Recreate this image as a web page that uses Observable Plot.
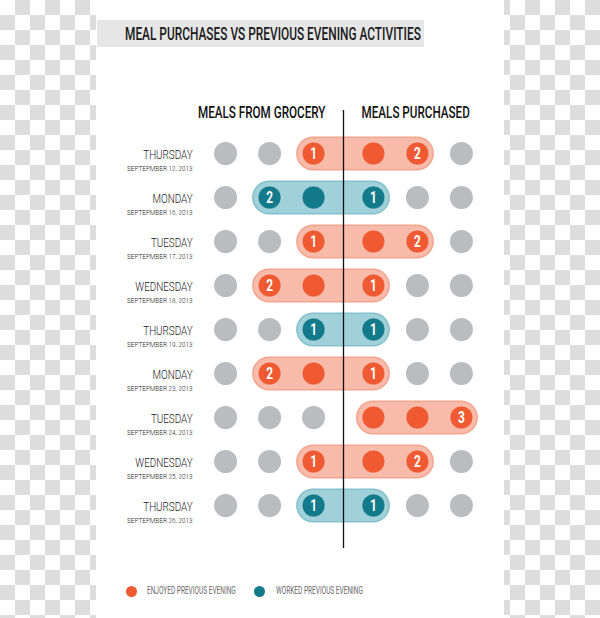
<!DOCTYPE html>
<html><head><meta charset="utf-8">
<script src="https://cdn.jsdelivr.net/npm/d3@7"></script>
<script src="https://cdn.jsdelivr.net/npm/@observablehq/plot@0.6"></script>
<style>
html,body{margin:0;padding:0;}
body{width:600px;height:618px;overflow:hidden;position:relative;
 background:repeating-conic-gradient(#dddddd 0% 25%, #ffffff 0% 50%) 0 0/30px 30px;
 font-family:Roboto,"DejaVu Sans",sans-serif;}
#card{position:absolute;left:96px;top:0;width:408px;height:618px;background:#fff;}
#title{position:absolute;left:1px;top:20px;width:327px;height:27px;background:#e6e6e6;margin:0;}
#title span{position:absolute;left:28px;top:3px;font-size:18px;line-height:22px;font-weight:500;color:#1a1a1a;white-space:nowrap;transform:scaleX(0.66);transform-origin:0 50%;}
#chart{position:absolute;left:0;top:60px;}
#legend{position:absolute;left:0;top:583px;width:408px;height:16px;}
.lg-dot{position:absolute;top:2.5px;width:11px;height:11px;border-radius:50%;}
.lg-txt{position:absolute;top:1px;font-size:10.5px;line-height:14px;color:#6a6a6a;white-space:nowrap;transform:scaleX(0.62);transform-origin:0 50%;}
</style></head>
<body>
<div id="card">
  <h1 id="title"><span></span></h1>
  <div id="chart"></div>
  <div id="legend"></div>
</div>
<script>
// ---- data ----
const titleText = "MEAL PURCHASES VS PREVIOUS EVENING ACTIVITIES";
const sideLabels = ["MEALS FROM GROCERY", "MEALS PURCHASED"];
const days = ["THURSDAY","MONDAY","TUESDAY","WEDNESDAY","THURSDAY","MONDAY","TUESDAY","WEDNESDAY","THURSDAY"];
const dates = ["SEPTEPMBER 12, 2013","SEPTEPMBER 16, 2013","SEPTEPMBER 17, 2013","SEPTEPMBER 18, 2013",
  "SEPTEPMBER 19, 2013","SEPTEPMBER 23, 2013","SEPTEPMBER 24, 2013","SEPTEPMBER 25, 2013","SEPTEPMBER 26, 2013"];
const groceryMeals   = [1,2,1,2,1,2,0,1,1];
const purchasedMeals = [2,1,2,1,1,1,3,2,1];
const activity = ["Enjoyed","Worked","Enjoyed","Enjoyed","Worked","Enjoyed","Enjoyed","Enjoyed","Worked"];
const activityNames  = ["Enjoyed","Worked"];
const activityLabels = ["ENJOYED PREVIOUS EVENING","WORKED PREVIOUS EVENING"];
const slotsPerSide = 3;

// ---- styles ----
const dotColor    = {Enjoyed:"#ef5a33", Worked:"#137a8c"};
const pillColor   = {Enjoyed:"#f8bbaa", Worked:"#a0d0d9"};
const borderColor = {Enjoyed:"#f4a48e", Worked:"#84c1cc"};
const emptyColor = "#bbbcbf";
const GAP = 0.68;           // distance of first slot from the divider, in slot units
const LABEL_X = -3.43;

document.querySelector("#title span").textContent = titleText;

const slotX = (side, k) => side * (GAP + k - 1);
const rows = dates.map((d, i) => ({date: d, day: days[i], grocery: groceryMeals[i], purchased: purchasedMeals[i], activity: activity[i]}));
const dots = rows.flatMap(r => [-1, 1].flatMap(side => d3.range(1, slotsPerSide + 1).map(k => ({
  date: r.date, x: slotX(side, k), filled: k <= (side < 0 ? r.grocery : r.purchased), activity: r.activity
}))));
const counts = rows.flatMap(r => [[-1, r.grocery], [1, r.purchased]].filter(([s, c]) => c > 0)
  .map(([s, c]) => ({date: r.date, x: slotX(s, c), n: String(c)})));
const pills = rows.filter(r => r.grocery + r.purchased > 0).map(r => ({
  date: r.date, activity: r.activity,
  x1: r.grocery > 0 ? slotX(-1, r.grocery) : slotX(1, 1),
  x2: r.purchased > 0 ? slotX(1, r.purchased) : slotX(-1, 1)
}));

const chart = Plot.plot({
  width: 408, height: 510, margin: 0,
  style: {fontFamily: "Roboto, 'DejaVu Sans', sans-serif", background: "transparent"},
  x: {domain: [-3, 3], range: [115, 379], axis: null},
  y: {type: "point", domain: dates, range: [92, 446], padding: 0, axis: null},
  color: {type: "identity"},
  marks: [
    Plot.ruleY(pills, {y: "date", x1: "x1", x2: "x2", stroke: d => borderColor[d.activity], strokeWidth: 34, strokeLinecap: "round"}),
    Plot.ruleY(pills, {y: "date", x1: "x1", x2: "x2", stroke: d => pillColor[d.activity], strokeWidth: 31, strokeLinecap: "round"}),
    Plot.ruleX([0], {stroke: "#111", strokeWidth: 1.3, insetTop: 50, insetBottom: 22}),
    Plot.dot(dots, {x: "x", y: "date", r: 11.5, fill: d => d.filled ? dotColor[d.activity] : emptyColor,
      stroke: d => d.filled ? "#ffffff" : "none", strokeOpacity: 0.4, strokeWidth: 1}),
    Plot.text(counts, {x: "x", y: "date", text: "n", fill: "white", fontSize: 16.5, fontWeight: "bold"}),
    Plot.text(rows, {x: LABEL_X, y: "date", text: "day", textAnchor: "end", dy: 1.5, fontSize: 13.5, fontWeight: 300, fill: "#222"}),
    Plot.text(rows, {x: LABEL_X, y: "date", text: "date", textAnchor: "end", dy: 14.5, fontSize: 8, fontWeight: 300, fill: "#222"}),
    Plot.text([sideLabels[0]], {x: -0.41, frameAnchor: "top", lineAnchor: "middle", dy: 52.5, text: d => d, textAnchor: "end", fontSize: 16, fontWeight: 500, fill: "#111"}),
    Plot.text([sideLabels[1]], {x: 0.41, frameAnchor: "top", lineAnchor: "middle", dy: 52.5, text: d => d, textAnchor: "start", fontSize: 16, fontWeight: 500, fill: "#111"})
  ]
});
// condense the lettering like the reference's narrow typeface
const stretch = {"13.5": 0.73, "8": 0.8, "16": 0.73, "16.5": 0.72};
chart.querySelectorAll("g[font-size]").forEach(g => {
  const s = stretch[g.getAttribute("font-size")];
  if (!s) return;
  g.querySelectorAll("text").forEach(t => t.setAttribute("transform", (t.getAttribute("transform") || "") + ` scale(${s},1)`));
});
document.getElementById("chart").append(chart);

// legend
const legend = document.getElementById("legend");
const lgDotX = [29.5, 157.5], lgTxtX = [51, 180];
activityNames.forEach((a, i) => {
  const dot = document.createElement("span");
  dot.className = "lg-dot"; dot.style.left = lgDotX[i] + "px"; dot.style.background = dotColor[a];
  const t = document.createElement("span");
  t.className = "lg-txt"; t.style.left = lgTxtX[i] + "px"; t.textContent = activityLabels[i];
  legend.append(dot, t);
});
</script>
</body></html>
